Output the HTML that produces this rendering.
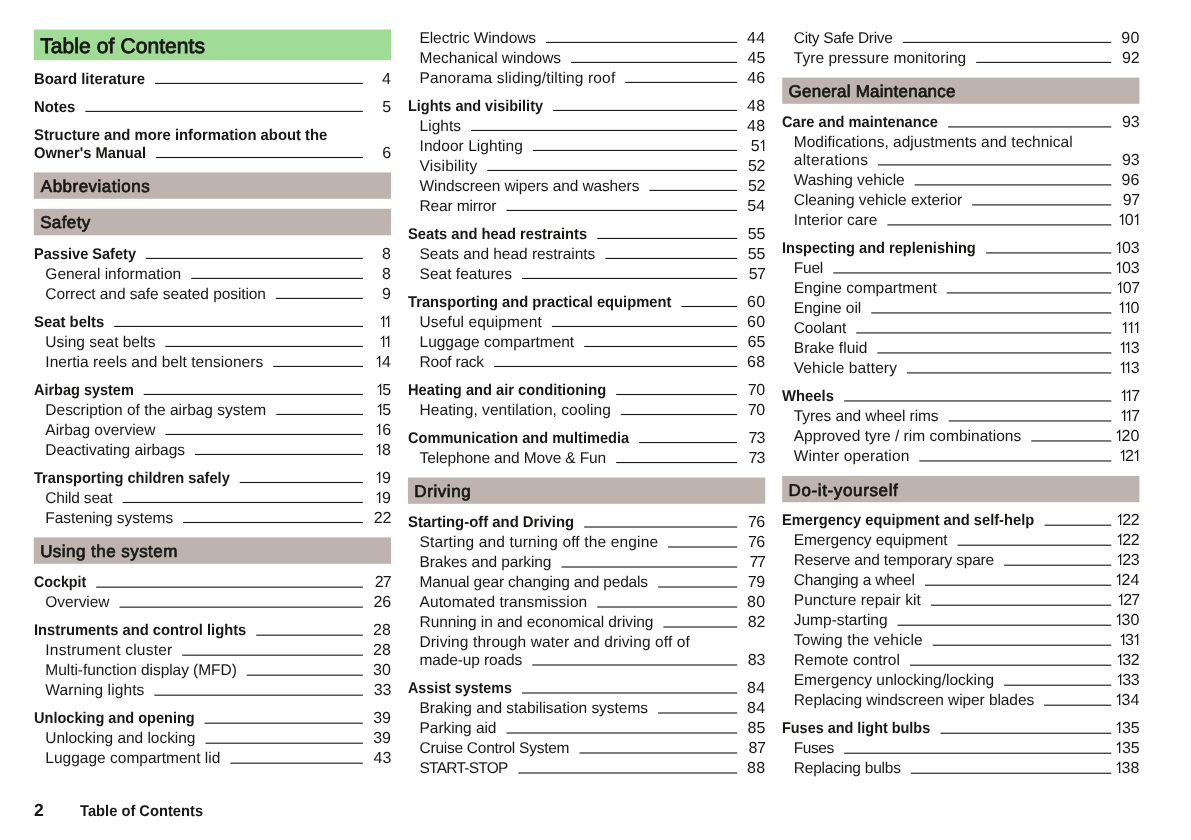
<!DOCTYPE html>
<html lang="en"><head><meta charset="utf-8"><title>Table of Contents</title>
<style>
html,body{margin:0;padding:0;background:#fff;}
body{width:1191px;height:840px;position:relative;overflow:hidden;will-change:transform;font-family:"Liberation Sans",sans-serif;color:#181817;text-rendering:geometricPrecision;}
.t{position:absolute;white-space:nowrap;font-size:15.5px;line-height:20px;height:20px;}
.h{font-weight:bold;transform-origin:0 0;}
.n{position:absolute;white-space:nowrap;font-size:16px;line-height:20px;height:20px;text-align:right;width:40px;}
.n i{font-style:normal;}
.n svg{vertical-align:baseline;overflow:visible;}
.n .d0,.n .d4,.n .d8{margin:0 0.2px;}
.n .d2,.n .d3{margin:0 -0.2px;}
.n .d5{margin:0 -0.05px;}
.n .d6{margin:0 0.05px;}
.n .d7{margin:0 -0.65px;}
.n .d9{margin:0 0.15px;}
.bar{position:absolute;}
.bt{position:absolute;white-space:nowrap;font-size:17px;line-height:24px;height:24px;-webkit-text-stroke:0.7px #181817;}
.ld{position:absolute;left:0;top:0;}
</style></head><body>

<svg class="ld" width="1191" height="840" viewBox="0 0 1191 840"><rect x="33.8" y="29.5" width="357.2" height="30.7" fill="#a1dc96"/><rect x="33.8" y="172.4" width="357.2" height="26.4" fill="#beb3ae"/><rect x="33.8" y="208.8" width="357.2" height="26.5" fill="#beb3ae"/><rect x="33.8" y="537.4" width="357.2" height="26.4" fill="#beb3ae"/><rect x="408.0" y="477.5" width="357.2" height="26.3" fill="#beb3ae"/><rect x="782.2" y="77.6" width="357.2" height="26.2" fill="#beb3ae"/><rect x="782.2" y="475.9" width="357.2" height="26.3" fill="#beb3ae"/><g fill="#181817"><rect x="154.9" y="82.85" width="208.0" height="1.1"/><rect x="85.3" y="110.85" width="277.6" height="1.1"/><rect x="156.0" y="156.95" width="206.9" height="1.1"/><rect x="145.9" y="257.85" width="217.0" height="1.1"/><rect x="191.2" y="277.85" width="171.7" height="1.1"/><rect x="276.0" y="297.85" width="86.9" height="1.1"/><rect x="114.2" y="325.88" width="248.7" height="1.1"/><rect x="165.4" y="345.88" width="197.5" height="1.1"/><rect x="273.2" y="365.88" width="89.7" height="1.1"/><rect x="143.7" y="393.91" width="219.2" height="1.1"/><rect x="276.3" y="413.91" width="86.6" height="1.1"/><rect x="165.4" y="433.91" width="197.5" height="1.1"/><rect x="195.0" y="453.91" width="167.9" height="1.1"/><rect x="239.7" y="481.94" width="123.2" height="1.1"/><rect x="122.6" y="501.94" width="240.3" height="1.1"/><rect x="183.2" y="521.94" width="179.7" height="1.1"/><rect x="96.2" y="586.59" width="266.7" height="1.1"/><rect x="119.5" y="606.59" width="243.4" height="1.1"/><rect x="256.2" y="634.62" width="106.7" height="1.1"/><rect x="182.2" y="654.62" width="180.7" height="1.1"/><rect x="246.8" y="674.62" width="116.1" height="1.1"/><rect x="154.3" y="694.62" width="208.6" height="1.1"/><rect x="204.6" y="722.65" width="158.3" height="1.1"/><rect x="205.5" y="742.65" width="157.4" height="1.1"/><rect x="230.4" y="762.65" width="132.5" height="1.1"/><rect x="546.0" y="41.85" width="191.1" height="1.1"/><rect x="571.1" y="61.85" width="166.0" height="1.1"/><rect x="625.2" y="81.85" width="111.9" height="1.1"/><rect x="553.1" y="109.88" width="184.0" height="1.1"/><rect x="471.1" y="129.88" width="266.0" height="1.1"/><rect x="532.9" y="149.88" width="204.2" height="1.1"/><rect x="487.3" y="169.88" width="249.8" height="1.1"/><rect x="649.4" y="189.88" width="87.7" height="1.1"/><rect x="506.5" y="209.88" width="230.6" height="1.1"/><rect x="597.2" y="237.91" width="139.9" height="1.1"/><rect x="605.3" y="257.91" width="131.8" height="1.1"/><rect x="522.0" y="277.91" width="215.1" height="1.1"/><rect x="681.4" y="305.94" width="55.7" height="1.1"/><rect x="551.9" y="325.94" width="185.2" height="1.1"/><rect x="584.2" y="345.94" width="152.9" height="1.1"/><rect x="494.1" y="365.94" width="243.0" height="1.1"/><rect x="616.2" y="393.97" width="120.9" height="1.1"/><rect x="620.8" y="413.97" width="116.3" height="1.1"/><rect x="639.2" y="442.00" width="97.9" height="1.1"/><rect x="616.2" y="462.00" width="120.9" height="1.1"/><rect x="584.2" y="526.45" width="152.9" height="1.1"/><rect x="668.1" y="546.45" width="69.0" height="1.1"/><rect x="561.5" y="566.45" width="175.6" height="1.1"/><rect x="658.1" y="586.45" width="79.0" height="1.1"/><rect x="597.2" y="606.45" width="139.9" height="1.1"/><rect x="663.4" y="626.45" width="73.7" height="1.1"/><rect x="532.3" y="664.45" width="204.8" height="1.1"/><rect x="522.0" y="692.45" width="215.1" height="1.1"/><rect x="658.1" y="712.45" width="79.0" height="1.1"/><rect x="506.5" y="732.45" width="230.6" height="1.1"/><rect x="579.5" y="752.45" width="157.6" height="1.1"/><rect x="518.3" y="772.45" width="218.8" height="1.1"/><rect x="902.9" y="41.85" width="208.4" height="1.1"/><rect x="976.2" y="61.85" width="135.1" height="1.1"/><rect x="948.2" y="126.35" width="163.1" height="1.1"/><rect x="878.0" y="164.35" width="233.3" height="1.1"/><rect x="914.7" y="184.35" width="196.6" height="1.1"/><rect x="972.2" y="204.35" width="139.1" height="1.1"/><rect x="887.4" y="224.35" width="223.9" height="1.1"/><rect x="986.1" y="252.38" width="125.2" height="1.1"/><rect x="833.3" y="272.38" width="278.0" height="1.1"/><rect x="946.7" y="292.38" width="164.6" height="1.1"/><rect x="871.2" y="312.38" width="240.1" height="1.1"/><rect x="856.3" y="332.38" width="255.0" height="1.1"/><rect x="877.4" y="352.38" width="233.9" height="1.1"/><rect x="906.9" y="372.38" width="204.4" height="1.1"/><rect x="844.2" y="400.41" width="267.1" height="1.1"/><rect x="948.6" y="420.41" width="162.7" height="1.1"/><rect x="1031.2" y="440.41" width="80.1" height="1.1"/><rect x="919.3" y="460.41" width="192.0" height="1.1"/><rect x="1044.5" y="524.65" width="66.8" height="1.1"/><rect x="957.6" y="544.65" width="153.7" height="1.1"/><rect x="1004.2" y="564.65" width="107.1" height="1.1"/><rect x="924.9" y="584.65" width="186.4" height="1.1"/><rect x="930.8" y="604.65" width="180.5" height="1.1"/><rect x="897.6" y="624.65" width="213.7" height="1.1"/><rect x="932.7" y="644.65" width="178.6" height="1.1"/><rect x="910.0" y="664.65" width="201.3" height="1.1"/><rect x="1004.2" y="684.65" width="107.1" height="1.1"/><rect x="1044.2" y="704.65" width="67.1" height="1.1"/><rect x="940.5" y="732.68" width="170.8" height="1.1"/><rect x="844.2" y="752.68" width="267.1" height="1.1"/><rect x="911.0" y="772.68" width="200.3" height="1.1"/></g></svg>
<div class="bt" style="left:40.22px;top:32.00px;font-size:21px;line-height:30px;height:30px;letter-spacing:0.086px;-webkit-text-stroke-width:0.85px">Table of Contents</div>
<div class="bt" style="left:40.85px;top:175.00px;font-size:17px;line-height:24px;height:24px;letter-spacing:0.483px">Abbreviations</div>
<div class="bt" style="left:40.15px;top:211.00px;font-size:17px;line-height:24px;height:24px;letter-spacing:0.386px">Safety</div>
<div class="bt" style="left:40.15px;top:540.00px;font-size:17px;line-height:24px;height:24px;letter-spacing:0.455px">Using the system</div>
<div class="bt" style="left:414.35px;top:480.00px;font-size:17px;line-height:24px;height:24px;letter-spacing:0.565px">Driving</div>
<div class="bt" style="left:788.55px;top:80.00px;font-size:17px;line-height:24px;height:24px;letter-spacing:0.245px">General Maintenance</div>
<div class="bt" style="left:788.55px;top:479.00px;font-size:17px;line-height:24px;height:24px;letter-spacing:0.629px">Do-it-yourself</div>
<div class="t h" style="left:33.90px;top:70.00px;letter-spacing:0.000px;transform:scaleX(0.9617)">Board literature</div>
<div class="n" style="left:351.10px;top:70.00px"><i class="d4">4</i></div>
<div class="t h" style="left:33.90px;top:98.00px;letter-spacing:0.000px;transform:scaleX(0.9610)">Notes</div>
<div class="n" style="left:351.10px;top:98.00px"><i class="d5">5</i></div>
<div class="t h" style="left:33.90px;top:126.00px;letter-spacing:0.000px;transform:scaleX(0.9567)">Structure and more information about the</div>
<div class="t h" style="left:33.90px;top:144.00px;letter-spacing:0.000px;transform:scaleX(0.9480)">Owner's Manual</div>
<div class="n" style="left:351.10px;top:144.00px"><i class="d6">6</i></div>
<div class="t h" style="left:33.90px;top:245.00px;letter-spacing:0.000px;transform:scaleX(0.9394)">Passive Safety</div>
<div class="n" style="left:351.10px;top:245.00px"><i class="d8">8</i></div>
<div class="t" style="left:45.35px;top:265.00px;letter-spacing:-0.015px">General information</div>
<div class="n" style="left:351.10px;top:265.00px"><i class="d8">8</i></div>
<div class="t" style="left:45.35px;top:285.00px;letter-spacing:-0.081px">Correct and safe seated position</div>
<div class="n" style="left:351.10px;top:285.00px"><i class="d9">9</i></div>
<div class="t h" style="left:33.90px;top:313.00px;letter-spacing:0.000px;transform:scaleX(0.9599)">Seat belts</div>
<div class="n" style="left:351.10px;top:313.00px"><svg width="5.7" height="11" viewBox="0 0 5.7 11"><path d="M0.8 3.1 L3.65 0.55 V11" fill="none" stroke="#181817" stroke-width="1.25" stroke-linejoin="miter"/></svg><svg width="5.7" height="11" viewBox="0 0 5.7 11"><path d="M0.8 3.1 L3.65 0.55 V11" fill="none" stroke="#181817" stroke-width="1.25" stroke-linejoin="miter"/></svg></div>
<div class="t" style="left:45.35px;top:333.00px;letter-spacing:-0.015px">Using seat belts</div>
<div class="n" style="left:351.10px;top:333.00px"><svg width="5.7" height="11" viewBox="0 0 5.7 11"><path d="M0.8 3.1 L3.65 0.55 V11" fill="none" stroke="#181817" stroke-width="1.25" stroke-linejoin="miter"/></svg><svg width="5.7" height="11" viewBox="0 0 5.7 11"><path d="M0.8 3.1 L3.65 0.55 V11" fill="none" stroke="#181817" stroke-width="1.25" stroke-linejoin="miter"/></svg></div>
<div class="t" style="left:45.35px;top:353.00px;letter-spacing:0.049px">Inertia reels and belt tensioners</div>
<div class="n" style="left:351.10px;top:353.00px"><svg width="5.7" height="11" viewBox="0 0 5.7 11"><path d="M0.8 3.1 L3.65 0.55 V11" fill="none" stroke="#181817" stroke-width="1.25" stroke-linejoin="miter"/></svg><i class="d4">4</i></div>
<div class="t h" style="left:33.90px;top:381.00px;letter-spacing:0.000px;transform:scaleX(0.9342)">Airbag system</div>
<div class="n" style="left:351.10px;top:381.00px"><svg width="5.7" height="11" viewBox="0 0 5.7 11"><path d="M0.8 3.1 L3.65 0.55 V11" fill="none" stroke="#181817" stroke-width="1.25" stroke-linejoin="miter"/></svg><i class="d5">5</i></div>
<div class="t" style="left:45.35px;top:401.00px;letter-spacing:-0.015px">Description of the airbag system</div>
<div class="n" style="left:351.10px;top:401.00px"><svg width="5.7" height="11" viewBox="0 0 5.7 11"><path d="M0.8 3.1 L3.65 0.55 V11" fill="none" stroke="#181817" stroke-width="1.25" stroke-linejoin="miter"/></svg><i class="d5">5</i></div>
<div class="t" style="left:45.35px;top:421.00px;letter-spacing:-0.017px">Airbag overview</div>
<div class="n" style="left:351.10px;top:421.00px"><svg width="5.7" height="11" viewBox="0 0 5.7 11"><path d="M0.8 3.1 L3.65 0.55 V11" fill="none" stroke="#181817" stroke-width="1.25" stroke-linejoin="miter"/></svg><i class="d6">6</i></div>
<div class="t" style="left:45.35px;top:441.00px;letter-spacing:-0.042px">Deactivating airbags</div>
<div class="n" style="left:351.10px;top:441.00px"><svg width="5.7" height="11" viewBox="0 0 5.7 11"><path d="M0.8 3.1 L3.65 0.55 V11" fill="none" stroke="#181817" stroke-width="1.25" stroke-linejoin="miter"/></svg><i class="d8">8</i></div>
<div class="t h" style="left:33.90px;top:469.00px;letter-spacing:0.000px;transform:scaleX(0.9433)">Transporting children safely</div>
<div class="n" style="left:351.10px;top:469.00px"><svg width="5.7" height="11" viewBox="0 0 5.7 11"><path d="M0.8 3.1 L3.65 0.55 V11" fill="none" stroke="#181817" stroke-width="1.25" stroke-linejoin="miter"/></svg><i class="d9">9</i></div>
<div class="t" style="left:45.35px;top:489.00px;letter-spacing:-0.188px">Child seat</div>
<div class="n" style="left:351.10px;top:489.00px"><svg width="5.7" height="11" viewBox="0 0 5.7 11"><path d="M0.8 3.1 L3.65 0.55 V11" fill="none" stroke="#181817" stroke-width="1.25" stroke-linejoin="miter"/></svg><i class="d9">9</i></div>
<div class="t" style="left:45.35px;top:509.00px;letter-spacing:-0.086px">Fastening systems</div>
<div class="n" style="left:351.10px;top:509.00px"><i class="d2">2</i><i class="d2">2</i></div>
<div class="t h" style="left:33.90px;top:573.00px;letter-spacing:0.000px;transform:scaleX(0.9201)">Cockpit</div>
<div class="n" style="left:351.10px;top:573.00px"><i class="d2">2</i><i class="d7">7</i></div>
<div class="t" style="left:45.35px;top:593.00px;letter-spacing:-0.066px">Overview</div>
<div class="n" style="left:351.10px;top:593.00px"><i class="d2">2</i><i class="d6">6</i></div>
<div class="t h" style="left:33.90px;top:621.00px;letter-spacing:0.000px;transform:scaleX(0.9518)">Instruments and control lights</div>
<div class="n" style="left:351.10px;top:621.00px"><i class="d2">2</i><i class="d8">8</i></div>
<div class="t" style="left:45.35px;top:641.00px;letter-spacing:0.215px">Instrument cluster</div>
<div class="n" style="left:351.10px;top:641.00px"><i class="d2">2</i><i class="d8">8</i></div>
<div class="t" style="left:45.35px;top:661.00px;letter-spacing:-0.055px">Multi-function display (MFD)</div>
<div class="n" style="left:351.10px;top:661.00px"><i class="d3">3</i><i class="d0">0</i></div>
<div class="t" style="left:45.35px;top:681.00px;letter-spacing:0.101px">Warning lights</div>
<div class="n" style="left:351.10px;top:681.00px"><i class="d3">3</i><i class="d3">3</i></div>
<div class="t h" style="left:33.90px;top:709.00px;letter-spacing:0.000px;transform:scaleX(0.9378)">Unlocking and opening</div>
<div class="n" style="left:351.10px;top:709.00px"><i class="d3">3</i><i class="d9">9</i></div>
<div class="t" style="left:45.35px;top:729.00px;letter-spacing:-0.032px">Unlocking and locking</div>
<div class="n" style="left:351.10px;top:729.00px"><i class="d3">3</i><i class="d9">9</i></div>
<div class="t" style="left:45.35px;top:749.00px;letter-spacing:0.006px">Luggage compartment lid</div>
<div class="n" style="left:351.10px;top:749.00px"><i class="d4">4</i><i class="d3">3</i></div>
<div class="t" style="left:419.55px;top:29.00px;letter-spacing:-0.103px">Electric Windows</div>
<div class="n" style="left:725.30px;top:29.00px"><i class="d4">4</i><i class="d4">4</i></div>
<div class="t" style="left:419.55px;top:49.00px;letter-spacing:-0.036px">Mechanical windows</div>
<div class="n" style="left:725.30px;top:49.00px"><i class="d4">4</i><i class="d5">5</i></div>
<div class="t" style="left:419.55px;top:69.00px;letter-spacing:0.156px">Panorama sliding/tilting roof</div>
<div class="n" style="left:725.30px;top:69.00px"><i class="d4">4</i><i class="d6">6</i></div>
<div class="t h" style="left:408.10px;top:97.00px;letter-spacing:0.000px;transform:scaleX(0.9330)">Lights and visibility</div>
<div class="n" style="left:725.30px;top:97.00px"><i class="d4">4</i><i class="d8">8</i></div>
<div class="t" style="left:419.55px;top:117.00px;letter-spacing:0.035px">Lights</div>
<div class="n" style="left:725.30px;top:117.00px"><i class="d4">4</i><i class="d8">8</i></div>
<div class="t" style="left:419.55px;top:137.00px;letter-spacing:0.056px">Indoor Lighting</div>
<div class="n" style="left:725.30px;top:137.00px"><i class="d5">5</i><svg width="5.7" height="11" viewBox="0 0 5.7 11"><path d="M0.8 3.1 L3.65 0.55 V11" fill="none" stroke="#181817" stroke-width="1.25" stroke-linejoin="miter"/></svg></div>
<div class="t" style="left:419.55px;top:157.00px;letter-spacing:0.227px">Visibility</div>
<div class="n" style="left:725.30px;top:157.00px"><i class="d5">5</i><i class="d2">2</i></div>
<div class="t" style="left:419.55px;top:177.00px;letter-spacing:-0.117px">Windscreen wipers and washers</div>
<div class="n" style="left:725.30px;top:177.00px"><i class="d5">5</i><i class="d2">2</i></div>
<div class="t" style="left:419.55px;top:197.00px;letter-spacing:-0.143px">Rear mirror</div>
<div class="n" style="left:725.30px;top:197.00px"><i class="d5">5</i><i class="d4">4</i></div>
<div class="t h" style="left:408.10px;top:225.00px;letter-spacing:0.000px;transform:scaleX(0.9493)">Seats and head restraints</div>
<div class="n" style="left:725.30px;top:225.00px"><i class="d5">5</i><i class="d5">5</i></div>
<div class="t" style="left:419.55px;top:245.00px;letter-spacing:-0.037px">Seats and head restraints</div>
<div class="n" style="left:725.30px;top:245.00px"><i class="d5">5</i><i class="d5">5</i></div>
<div class="t" style="left:419.55px;top:265.00px;letter-spacing:0.021px">Seat features</div>
<div class="n" style="left:725.30px;top:265.00px"><i class="d5">5</i><i class="d7">7</i></div>
<div class="t h" style="left:408.10px;top:293.00px;letter-spacing:0.000px;transform:scaleX(0.9494)">Transporting and practical equipment</div>
<div class="n" style="left:725.30px;top:293.00px"><i class="d6">6</i><i class="d0">0</i></div>
<div class="t" style="left:419.55px;top:313.00px;letter-spacing:0.115px">Useful equipment</div>
<div class="n" style="left:725.30px;top:313.00px"><i class="d6">6</i><i class="d0">0</i></div>
<div class="t" style="left:419.55px;top:333.00px;letter-spacing:-0.026px">Luggage compartment</div>
<div class="n" style="left:725.30px;top:333.00px"><i class="d6">6</i><i class="d5">5</i></div>
<div class="t" style="left:419.55px;top:353.00px;letter-spacing:-0.224px">Roof rack</div>
<div class="n" style="left:725.30px;top:353.00px"><i class="d6">6</i><i class="d8">8</i></div>
<div class="t h" style="left:408.10px;top:381.00px;letter-spacing:0.000px;transform:scaleX(0.9467)">Heating and air conditioning</div>
<div class="n" style="left:725.30px;top:381.00px"><i class="d7">7</i><i class="d0">0</i></div>
<div class="t" style="left:419.55px;top:401.00px;letter-spacing:0.060px">Heating, ventilation, cooling</div>
<div class="n" style="left:725.30px;top:401.00px"><i class="d7">7</i><i class="d0">0</i></div>
<div class="t h" style="left:408.10px;top:429.00px;letter-spacing:0.000px;transform:scaleX(0.9404)">Communication and multimedia</div>
<div class="n" style="left:725.30px;top:429.00px"><i class="d7">7</i><i class="d3">3</i></div>
<div class="t" style="left:419.55px;top:449.00px;letter-spacing:-0.127px">Telephone and Move &amp; Fun</div>
<div class="n" style="left:725.30px;top:449.00px"><i class="d7">7</i><i class="d3">3</i></div>
<div class="t h" style="left:408.10px;top:513.00px;letter-spacing:0.000px;transform:scaleX(0.9597)">Starting-off and Driving</div>
<div class="n" style="left:725.30px;top:513.00px"><i class="d7">7</i><i class="d6">6</i></div>
<div class="t" style="left:419.55px;top:533.00px;letter-spacing:0.156px">Starting and turning off the engine</div>
<div class="n" style="left:725.30px;top:533.00px"><i class="d7">7</i><i class="d6">6</i></div>
<div class="t" style="left:419.55px;top:553.00px;letter-spacing:-0.095px">Brakes and parking</div>
<div class="n" style="left:725.30px;top:553.00px"><i class="d7">7</i><i class="d7">7</i></div>
<div class="t" style="left:419.55px;top:573.00px;letter-spacing:-0.167px">Manual gear changing and pedals</div>
<div class="n" style="left:725.30px;top:573.00px"><i class="d7">7</i><i class="d9">9</i></div>
<div class="t" style="left:419.55px;top:593.00px;letter-spacing:0.065px">Automated transmission</div>
<div class="n" style="left:725.30px;top:593.00px"><i class="d8">8</i><i class="d0">0</i></div>
<div class="t" style="left:419.55px;top:613.00px;letter-spacing:-0.097px">Running in and economical driving</div>
<div class="n" style="left:725.30px;top:613.00px"><i class="d8">8</i><i class="d2">2</i></div>
<div class="t" style="left:419.55px;top:633.00px;letter-spacing:0.110px">Driving through water and driving off of</div>
<div class="t" style="left:419.55px;top:651.00px;letter-spacing:-0.126px">made-up roads</div>
<div class="n" style="left:725.30px;top:651.00px"><i class="d8">8</i><i class="d3">3</i></div>
<div class="t h" style="left:408.10px;top:679.00px;letter-spacing:0.000px;transform:scaleX(0.9205)">Assist systems</div>
<div class="n" style="left:725.30px;top:679.00px"><i class="d8">8</i><i class="d4">4</i></div>
<div class="t" style="left:419.55px;top:699.00px;letter-spacing:-0.019px">Braking and stabilisation systems</div>
<div class="n" style="left:725.30px;top:699.00px"><i class="d8">8</i><i class="d4">4</i></div>
<div class="t" style="left:419.55px;top:719.00px;letter-spacing:-0.060px">Parking aid</div>
<div class="n" style="left:725.30px;top:719.00px"><i class="d8">8</i><i class="d5">5</i></div>
<div class="t" style="left:419.55px;top:739.00px;letter-spacing:-0.255px">Cruise Control System</div>
<div class="n" style="left:725.30px;top:739.00px"><i class="d8">8</i><i class="d7">7</i></div>
<div class="t" style="left:419.55px;top:759.00px;letter-spacing:-0.762px">START-STOP</div>
<div class="n" style="left:725.30px;top:759.00px"><i class="d8">8</i><i class="d8">8</i></div>
<div class="t" style="left:793.75px;top:29.00px;letter-spacing:-0.302px">City Safe Drive</div>
<div class="n" style="left:1099.50px;top:29.00px"><i class="d9">9</i><i class="d0">0</i></div>
<div class="t" style="left:793.75px;top:49.00px;letter-spacing:0.044px">Tyre pressure monitoring</div>
<div class="n" style="left:1099.50px;top:49.00px"><i class="d9">9</i><i class="d2">2</i></div>
<div class="t h" style="left:782.30px;top:113.00px;letter-spacing:0.000px;transform:scaleX(0.9425)">Care and maintenance</div>
<div class="n" style="left:1099.50px;top:113.00px"><i class="d9">9</i><i class="d3">3</i></div>
<div class="t" style="left:793.75px;top:133.00px;letter-spacing:0.015px">Modifications, adjustments and technical</div>
<div class="t" style="left:793.75px;top:151.00px;letter-spacing:0.273px">alterations</div>
<div class="n" style="left:1099.50px;top:151.00px"><i class="d9">9</i><i class="d3">3</i></div>
<div class="t" style="left:793.75px;top:171.00px;letter-spacing:-0.096px">Washing vehicle</div>
<div class="n" style="left:1099.50px;top:171.00px"><i class="d9">9</i><i class="d6">6</i></div>
<div class="t" style="left:793.75px;top:191.00px;letter-spacing:-0.054px">Cleaning vehicle exterior</div>
<div class="n" style="left:1099.50px;top:191.00px"><i class="d9">9</i><i class="d7">7</i></div>
<div class="t" style="left:793.75px;top:211.00px;letter-spacing:0.079px">Interior care</div>
<div class="n" style="left:1099.50px;top:211.00px"><svg width="5.7" height="11" viewBox="0 0 5.7 11"><path d="M0.8 3.1 L3.65 0.55 V11" fill="none" stroke="#181817" stroke-width="1.25" stroke-linejoin="miter"/></svg><i class="d0">0</i><svg width="5.7" height="11" viewBox="0 0 5.7 11"><path d="M0.8 3.1 L3.65 0.55 V11" fill="none" stroke="#181817" stroke-width="1.25" stroke-linejoin="miter"/></svg></div>
<div class="t h" style="left:782.30px;top:239.00px;letter-spacing:0.000px;transform:scaleX(0.9415)">Inspecting and replenishing</div>
<div class="n" style="left:1099.50px;top:239.00px"><svg width="5.7" height="11" viewBox="0 0 5.7 11"><path d="M0.8 3.1 L3.65 0.55 V11" fill="none" stroke="#181817" stroke-width="1.25" stroke-linejoin="miter"/></svg><i class="d0">0</i><i class="d3">3</i></div>
<div class="t" style="left:793.75px;top:259.00px;letter-spacing:-0.202px">Fuel</div>
<div class="n" style="left:1099.50px;top:259.00px"><svg width="5.7" height="11" viewBox="0 0 5.7 11"><path d="M0.8 3.1 L3.65 0.55 V11" fill="none" stroke="#181817" stroke-width="1.25" stroke-linejoin="miter"/></svg><i class="d0">0</i><i class="d3">3</i></div>
<div class="t" style="left:793.75px;top:279.00px;letter-spacing:-0.005px">Engine compartment</div>
<div class="n" style="left:1099.50px;top:279.00px"><svg width="5.7" height="11" viewBox="0 0 5.7 11"><path d="M0.8 3.1 L3.65 0.55 V11" fill="none" stroke="#181817" stroke-width="1.25" stroke-linejoin="miter"/></svg><i class="d0">0</i><i class="d7">7</i></div>
<div class="t" style="left:793.75px;top:299.00px;letter-spacing:-0.070px">Engine oil</div>
<div class="n" style="left:1099.50px;top:299.00px"><svg width="5.7" height="11" viewBox="0 0 5.7 11"><path d="M0.8 3.1 L3.65 0.55 V11" fill="none" stroke="#181817" stroke-width="1.25" stroke-linejoin="miter"/></svg><svg width="5.7" height="11" viewBox="0 0 5.7 11"><path d="M0.8 3.1 L3.65 0.55 V11" fill="none" stroke="#181817" stroke-width="1.25" stroke-linejoin="miter"/></svg><i class="d0">0</i></div>
<div class="t" style="left:793.75px;top:319.00px;letter-spacing:-0.148px">Coolant</div>
<div class="n" style="left:1099.50px;top:319.00px"><svg width="5.7" height="11" viewBox="0 0 5.7 11"><path d="M0.8 3.1 L3.65 0.55 V11" fill="none" stroke="#181817" stroke-width="1.25" stroke-linejoin="miter"/></svg><svg width="5.7" height="11" viewBox="0 0 5.7 11"><path d="M0.8 3.1 L3.65 0.55 V11" fill="none" stroke="#181817" stroke-width="1.25" stroke-linejoin="miter"/></svg><svg width="5.7" height="11" viewBox="0 0 5.7 11"><path d="M0.8 3.1 L3.65 0.55 V11" fill="none" stroke="#181817" stroke-width="1.25" stroke-linejoin="miter"/></svg></div>
<div class="t" style="left:793.75px;top:339.00px;letter-spacing:0.042px">Brake fluid</div>
<div class="n" style="left:1099.50px;top:339.00px"><svg width="5.7" height="11" viewBox="0 0 5.7 11"><path d="M0.8 3.1 L3.65 0.55 V11" fill="none" stroke="#181817" stroke-width="1.25" stroke-linejoin="miter"/></svg><svg width="5.7" height="11" viewBox="0 0 5.7 11"><path d="M0.8 3.1 L3.65 0.55 V11" fill="none" stroke="#181817" stroke-width="1.25" stroke-linejoin="miter"/></svg><i class="d3">3</i></div>
<div class="t" style="left:793.75px;top:359.00px;letter-spacing:0.104px">Vehicle battery</div>
<div class="n" style="left:1099.50px;top:359.00px"><svg width="5.7" height="11" viewBox="0 0 5.7 11"><path d="M0.8 3.1 L3.65 0.55 V11" fill="none" stroke="#181817" stroke-width="1.25" stroke-linejoin="miter"/></svg><svg width="5.7" height="11" viewBox="0 0 5.7 11"><path d="M0.8 3.1 L3.65 0.55 V11" fill="none" stroke="#181817" stroke-width="1.25" stroke-linejoin="miter"/></svg><i class="d3">3</i></div>
<div class="t h" style="left:782.30px;top:387.00px;letter-spacing:0.000px;transform:scaleX(0.9564)">Wheels</div>
<div class="n" style="left:1099.50px;top:387.00px"><svg width="5.7" height="11" viewBox="0 0 5.7 11"><path d="M0.8 3.1 L3.65 0.55 V11" fill="none" stroke="#181817" stroke-width="1.25" stroke-linejoin="miter"/></svg><svg width="5.7" height="11" viewBox="0 0 5.7 11"><path d="M0.8 3.1 L3.65 0.55 V11" fill="none" stroke="#181817" stroke-width="1.25" stroke-linejoin="miter"/></svg><i class="d7">7</i></div>
<div class="t" style="left:793.75px;top:407.00px;letter-spacing:-0.084px">Tyres and wheel rims</div>
<div class="n" style="left:1099.50px;top:407.00px"><svg width="5.7" height="11" viewBox="0 0 5.7 11"><path d="M0.8 3.1 L3.65 0.55 V11" fill="none" stroke="#181817" stroke-width="1.25" stroke-linejoin="miter"/></svg><svg width="5.7" height="11" viewBox="0 0 5.7 11"><path d="M0.8 3.1 L3.65 0.55 V11" fill="none" stroke="#181817" stroke-width="1.25" stroke-linejoin="miter"/></svg><i class="d7">7</i></div>
<div class="t" style="left:793.75px;top:427.00px;letter-spacing:0.028px">Approved tyre / rim combinations</div>
<div class="n" style="left:1099.50px;top:427.00px"><svg width="5.7" height="11" viewBox="0 0 5.7 11"><path d="M0.8 3.1 L3.65 0.55 V11" fill="none" stroke="#181817" stroke-width="1.25" stroke-linejoin="miter"/></svg><i class="d2">2</i><i class="d0">0</i></div>
<div class="t" style="left:793.75px;top:447.00px;letter-spacing:0.121px">Winter operation</div>
<div class="n" style="left:1099.50px;top:447.00px"><svg width="5.7" height="11" viewBox="0 0 5.7 11"><path d="M0.8 3.1 L3.65 0.55 V11" fill="none" stroke="#181817" stroke-width="1.25" stroke-linejoin="miter"/></svg><i class="d2">2</i><svg width="5.7" height="11" viewBox="0 0 5.7 11"><path d="M0.8 3.1 L3.65 0.55 V11" fill="none" stroke="#181817" stroke-width="1.25" stroke-linejoin="miter"/></svg></div>
<div class="t h" style="left:782.30px;top:511.00px;letter-spacing:0.000px;transform:scaleX(0.9476)">Emergency equipment and self-help</div>
<div class="n" style="left:1099.50px;top:511.00px"><svg width="5.7" height="11" viewBox="0 0 5.7 11"><path d="M0.8 3.1 L3.65 0.55 V11" fill="none" stroke="#181817" stroke-width="1.25" stroke-linejoin="miter"/></svg><i class="d2">2</i><i class="d2">2</i></div>
<div class="t" style="left:793.75px;top:531.00px;letter-spacing:-0.069px">Emergency equipment</div>
<div class="n" style="left:1099.50px;top:531.00px"><svg width="5.7" height="11" viewBox="0 0 5.7 11"><path d="M0.8 3.1 L3.65 0.55 V11" fill="none" stroke="#181817" stroke-width="1.25" stroke-linejoin="miter"/></svg><i class="d2">2</i><i class="d2">2</i></div>
<div class="t" style="left:793.75px;top:551.00px;letter-spacing:-0.177px">Reserve and temporary spare</div>
<div class="n" style="left:1099.50px;top:551.00px"><svg width="5.7" height="11" viewBox="0 0 5.7 11"><path d="M0.8 3.1 L3.65 0.55 V11" fill="none" stroke="#181817" stroke-width="1.25" stroke-linejoin="miter"/></svg><i class="d2">2</i><i class="d3">3</i></div>
<div class="t" style="left:793.75px;top:571.00px;letter-spacing:-0.196px">Changing a wheel</div>
<div class="n" style="left:1099.50px;top:571.00px"><svg width="5.7" height="11" viewBox="0 0 5.7 11"><path d="M0.8 3.1 L3.65 0.55 V11" fill="none" stroke="#181817" stroke-width="1.25" stroke-linejoin="miter"/></svg><i class="d2">2</i><i class="d4">4</i></div>
<div class="t" style="left:793.75px;top:591.00px;letter-spacing:0.070px">Puncture repair kit</div>
<div class="n" style="left:1099.50px;top:591.00px"><svg width="5.7" height="11" viewBox="0 0 5.7 11"><path d="M0.8 3.1 L3.65 0.55 V11" fill="none" stroke="#181817" stroke-width="1.25" stroke-linejoin="miter"/></svg><i class="d2">2</i><i class="d7">7</i></div>
<div class="t" style="left:793.75px;top:611.00px;letter-spacing:-0.005px">Jump-starting</div>
<div class="n" style="left:1099.50px;top:611.00px"><svg width="5.7" height="11" viewBox="0 0 5.7 11"><path d="M0.8 3.1 L3.65 0.55 V11" fill="none" stroke="#181817" stroke-width="1.25" stroke-linejoin="miter"/></svg><i class="d3">3</i><i class="d0">0</i></div>
<div class="t" style="left:793.75px;top:631.00px;letter-spacing:0.134px">Towing the vehicle</div>
<div class="n" style="left:1099.50px;top:631.00px"><svg width="5.7" height="11" viewBox="0 0 5.7 11"><path d="M0.8 3.1 L3.65 0.55 V11" fill="none" stroke="#181817" stroke-width="1.25" stroke-linejoin="miter"/></svg><i class="d3">3</i><svg width="5.7" height="11" viewBox="0 0 5.7 11"><path d="M0.8 3.1 L3.65 0.55 V11" fill="none" stroke="#181817" stroke-width="1.25" stroke-linejoin="miter"/></svg></div>
<div class="t" style="left:793.75px;top:651.00px;letter-spacing:0.088px">Remote control</div>
<div class="n" style="left:1099.50px;top:651.00px"><svg width="5.7" height="11" viewBox="0 0 5.7 11"><path d="M0.8 3.1 L3.65 0.55 V11" fill="none" stroke="#181817" stroke-width="1.25" stroke-linejoin="miter"/></svg><i class="d3">3</i><i class="d2">2</i></div>
<div class="t" style="left:793.75px;top:671.00px;letter-spacing:-0.012px">Emergency unlocking/locking</div>
<div class="n" style="left:1099.50px;top:671.00px"><svg width="5.7" height="11" viewBox="0 0 5.7 11"><path d="M0.8 3.1 L3.65 0.55 V11" fill="none" stroke="#181817" stroke-width="1.25" stroke-linejoin="miter"/></svg><i class="d3">3</i><i class="d3">3</i></div>
<div class="t" style="left:793.75px;top:691.00px;letter-spacing:-0.079px">Replacing windscreen wiper blades</div>
<div class="n" style="left:1099.50px;top:691.00px"><svg width="5.7" height="11" viewBox="0 0 5.7 11"><path d="M0.8 3.1 L3.65 0.55 V11" fill="none" stroke="#181817" stroke-width="1.25" stroke-linejoin="miter"/></svg><i class="d3">3</i><i class="d4">4</i></div>
<div class="t h" style="left:782.30px;top:719.00px;letter-spacing:0.000px;transform:scaleX(0.9302)">Fuses and light bulbs</div>
<div class="n" style="left:1099.50px;top:719.00px"><svg width="5.7" height="11" viewBox="0 0 5.7 11"><path d="M0.8 3.1 L3.65 0.55 V11" fill="none" stroke="#181817" stroke-width="1.25" stroke-linejoin="miter"/></svg><i class="d3">3</i><i class="d5">5</i></div>
<div class="t" style="left:793.75px;top:739.00px;letter-spacing:-0.442px">Fuses</div>
<div class="n" style="left:1099.50px;top:739.00px"><svg width="5.7" height="11" viewBox="0 0 5.7 11"><path d="M0.8 3.1 L3.65 0.55 V11" fill="none" stroke="#181817" stroke-width="1.25" stroke-linejoin="miter"/></svg><i class="d3">3</i><i class="d5">5</i></div>
<div class="t" style="left:793.75px;top:759.00px;letter-spacing:-0.218px">Replacing bulbs</div>
<div class="n" style="left:1099.50px;top:759.00px"><svg width="5.7" height="11" viewBox="0 0 5.7 11"><path d="M0.8 3.1 L3.65 0.55 V11" fill="none" stroke="#181817" stroke-width="1.25" stroke-linejoin="miter"/></svg><i class="d3">3</i><i class="d8">8</i></div>
<div class="t" style="left:33.99px;top:800.00px;font-size:17.5px;font-weight:bold">2</div>
<div class="t h" style="left:80.23px;top:802.00px;transform:scaleX(0.9486)">Table of Contents</div>

</body></html>
